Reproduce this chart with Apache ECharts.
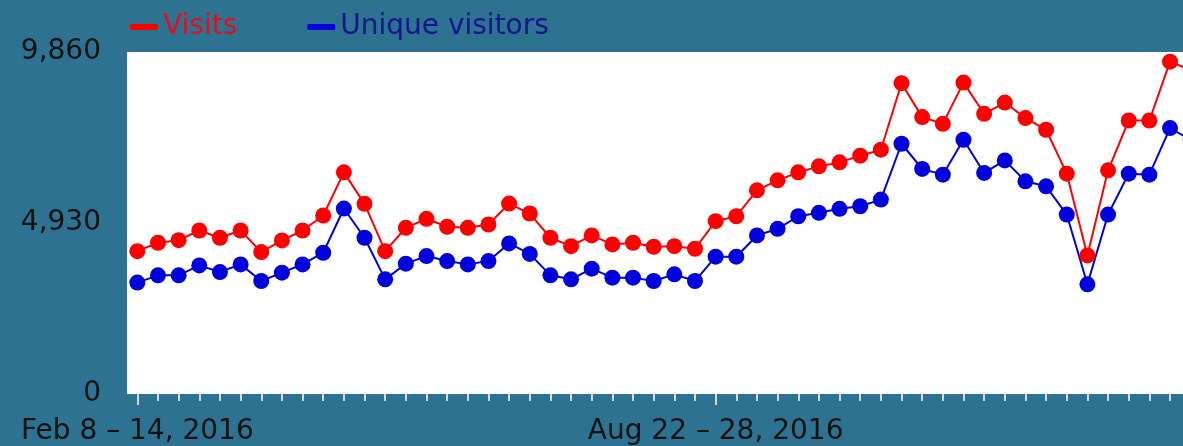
<!DOCTYPE html>
<html>
<head>
<meta charset="utf-8">
<script src="https://cdn.jsdelivr.net/npm/echarts@6/dist/echarts.min.js"></script>
<style>
html,body{margin:0;padding:0;background:#2d7391;overflow:hidden;width:1183px;height:446px;}
#chart{width:1215px;height:446px;}
</style>
</head>
<body>
<div id="chart"></div>
<script>
var categories = [
"Feb 8 – 14, 2016","Feb 15 – 21, 2016","Feb 22 – 28, 2016","Feb 29 – Mar 6, 2016",
"Mar 7 – 13, 2016","Mar 14 – 20, 2016","Mar 21 – 27, 2016","Mar 28 – Apr 3, 2016",
"Apr 4 – 10, 2016","Apr 11 – 17, 2016","Apr 18 – 24, 2016","Apr 25 – May 1, 2016",
"May 2 – 8, 2016","May 9 – 15, 2016","May 16 – 22, 2016","May 23 – 29, 2016",
"May 30 – Jun 5, 2016","Jun 6 – 12, 2016","Jun 13 – 19, 2016","Jun 20 – 26, 2016",
"Jun 27 – Jul 3, 2016","Jul 4 – 10, 2016","Jul 11 – 17, 2016","Jul 18 – 24, 2016",
"Jul 25 – 31, 2016","Aug 1 – 7, 2016","Aug 8 – 14, 2016","Aug 15 – 21, 2016",
"Aug 22 – 28, 2016","Aug 29 – Sep 4, 2016","Sep 5 – 11, 2016","Sep 12 – 18, 2016",
"Sep 19 – 25, 2016","Sep 26 – Oct 2, 2016","Oct 3 – 9, 2016","Oct 10 – 16, 2016",
"Oct 17 – 23, 2016","Oct 24 – 30, 2016","Oct 31 – Nov 6, 2016","Nov 7 – 13, 2016",
"Nov 14 – 20, 2016","Nov 21 – 27, 2016","Nov 28 – Dec 4, 2016","Dec 5 – 11, 2016",
"Dec 12 – 18, 2016","Dec 19 – 25, 2016","Dec 26, 2016 – Jan 1, 2017","Jan 2 – 8, 2017",
"Jan 9 – 15, 2017","Jan 16 – 22, 2017","Jan 23 – 29, 2017","Jan 30 – Feb 5, 2017"
];
var visits = [
4119,4361,4436,4714,4505,4714,4091,4427,4714,5146,6390,5482,4119,4792,5051,4821,
4792,4887,5490,5203,4505,4263,4571,4312,4361,4246,4263,4188,4982,5125,5873,6160,
6390,6563,6678,6870,7043,8960,7983,7790,8978,8078,8403,7954,7618,6353,3996,6448,
7885,7885,9581,9342
];
var uniqueVisitors = [
3211,3421,3421,3708,3516,3737,3257,3498,3737,4073,5347,4505,3306,3757,3976,3832,
3737,3832,4341,4039,3421,3306,3613,3355,3355,3257,3450,3257,3958,3958,4571,4763,
5125,5223,5338,5413,5605,7215,6488,6324,7330,6373,6735,6132,5988,5174,3162,5174,
6353,6324,7667,7330
];
var yTicks = [0, 4930, 9860];

var chart = echarts.init(document.getElementById('chart'), null, {renderer:'canvas'});
var font = 'Verdana, "DejaVu Sans", sans-serif';
var option = {
  backgroundColor: '#2d7391',
  animation: false,
  textStyle: {fontFamily: font},
  legend: {
    left: 125, top: 8,
    icon: 'roundRect', itemWidth: 28, itemHeight: 6, itemGap: 70,
    textStyle: {fontFamily: font, fontSize: 28},
    data: [
      {name: 'Visits', textStyle: {color: '#e0101c'}},
      {name: 'Unique visitors', textStyle: {color: '#14148f'}}
    ]
  },
  grid: {
    left: 127, top: 52, height: 343, width: 1074,
    show: true, backgroundColor: '#ffffff', borderWidth: 0, containLabel: false
  },
  xAxis: [{
    type: 'category', data: categories, boundaryGap: true,
    axisLine: {show: false},
    axisTick: {show: true, alignWithLabel: true, interval: 0, length: 7, lineStyle: {color: '#d8d8d8', width: 2}},
    axisLabel: {show: false},
    splitLine: {show: false}
  }, {
    type: 'category', data: categories, boundaryGap: true, position: 'bottom',
    axisLine: {show: false},
    axisTick: {show: true, alignWithLabel: true, interval: 27, length: 11, lineStyle: {color: '#d8d8d8', width: 2}},
    axisLabel: {show: true, interval: 27, color: '#111', fontSize: 28, fontFamily: font, margin: 24},
    splitLine: {show: false}
  }],
  yAxis: {
    type: 'value', min: yTicks[0], max: yTicks[2], interval: yTicks[1],
    axisLine: {show: false}, axisTick: {show: false}, splitLine: {show: false},
    axisLabel: {color: '#111', fontSize: 28, fontFamily: font, margin: 26,
      formatter: function (v) { return v.toLocaleString('en-US'); }}
  },
  series: [{
    name: 'Unique visitors', type: 'line', data: uniqueVisitors, z: 2,
    symbol: 'circle', symbolSize: 16, showSymbol: true, showAllSymbol: true,
    itemStyle: {color: '#0000dd'},
    lineStyle: {color: '#0000dd', width: 2}
  }, {
    name: 'Visits', type: 'line', data: visits, z: 3,
    symbol: 'circle', symbolSize: 16, showSymbol: true, showAllSymbol: true,
    itemStyle: {color: '#ff0000'},
    lineStyle: {color: '#ff0000', width: 2}
  }]
};
chart.setOption(option);
</script>
</body>
</html>
